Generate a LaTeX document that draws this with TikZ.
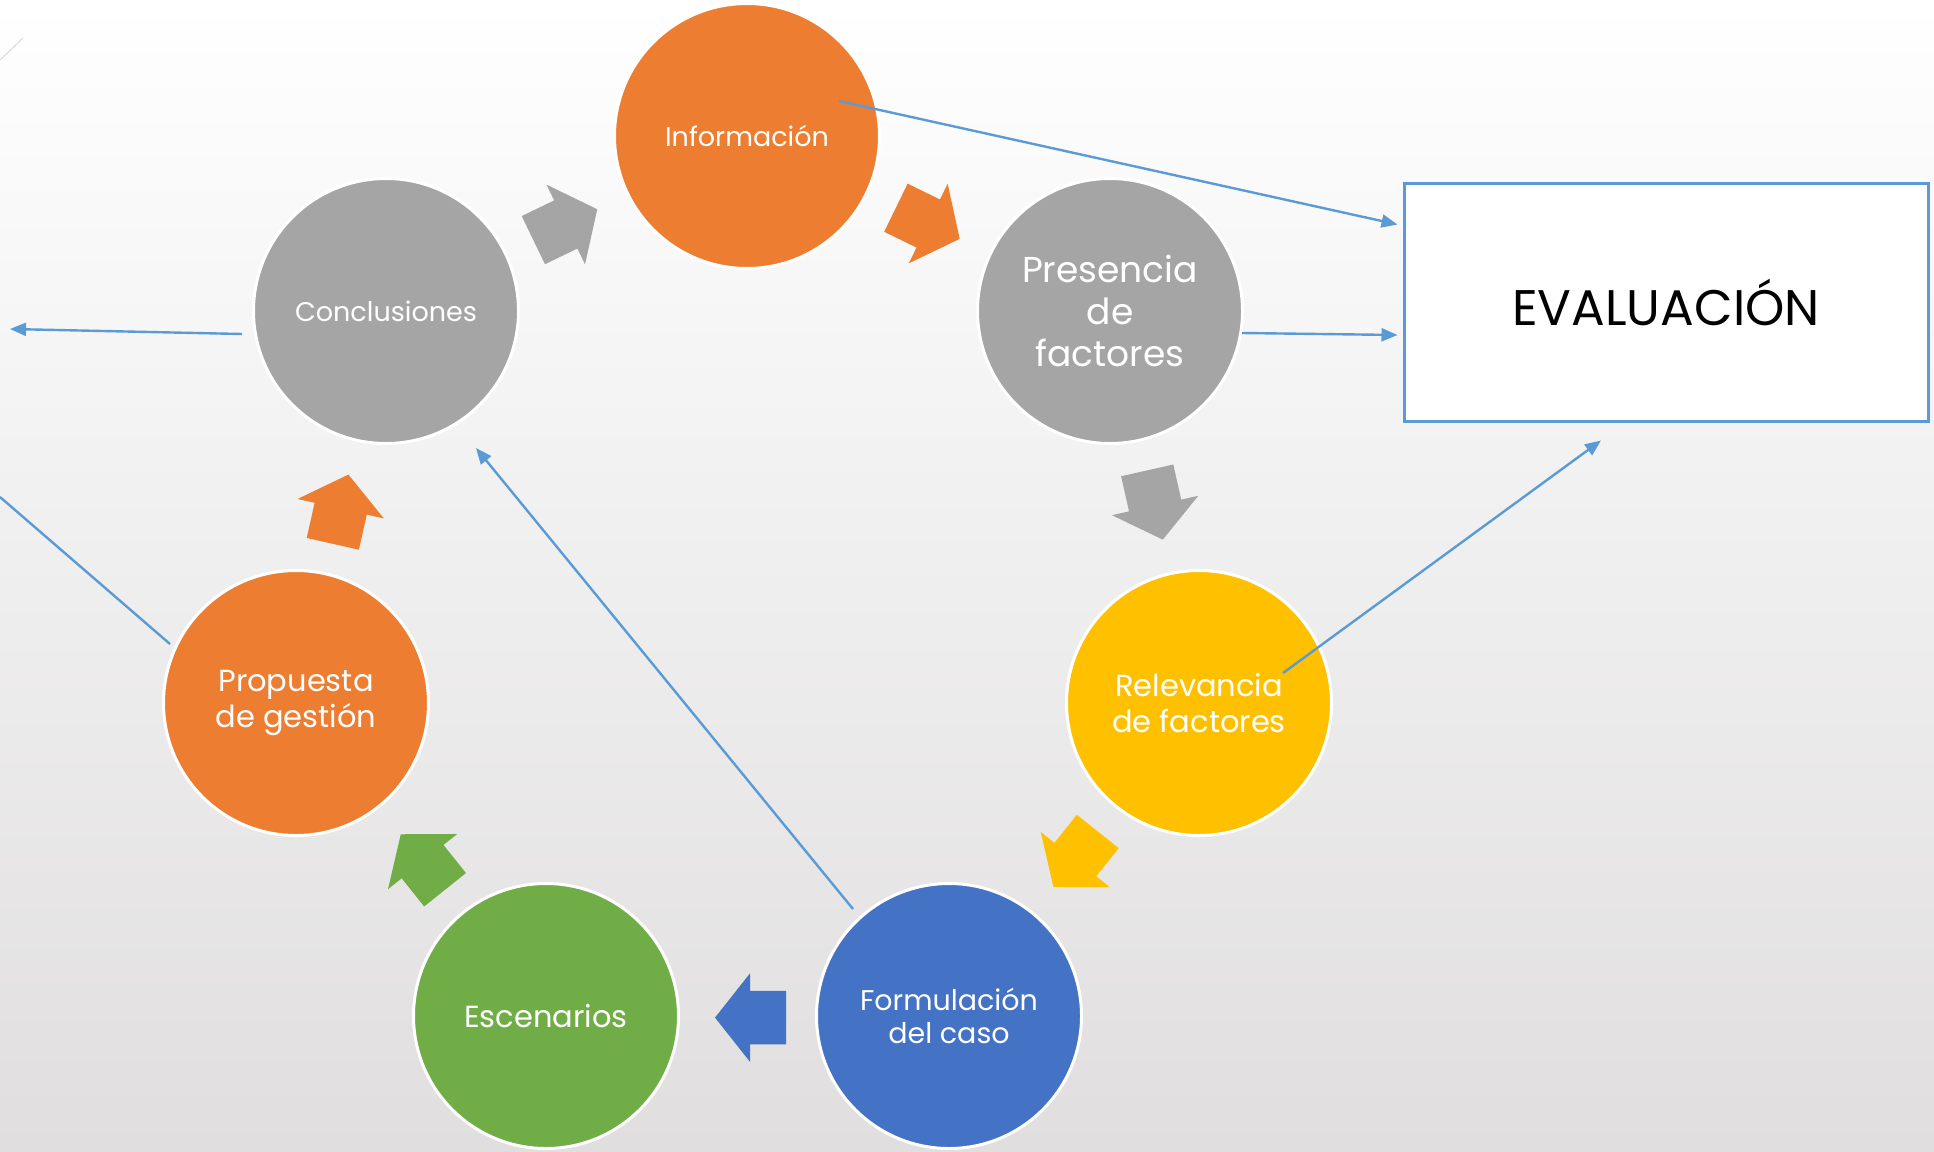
\documentclass[tikz,border=0pt]{standalone}
\usepackage{fontspec}
\setmainfont{Poppins}
\usetikzlibrary{arrows.meta, calc}
\definecolor{officeorange}{RGB}{237,125,49}
\definecolor{officegray}{RGB}{165,165,165}
\definecolor{officeyellow}{RGB}{255,192,0}
\definecolor{officeblue}{RGB}{68,114,196}
\definecolor{officegreen}{RGB}{112,173,71}
\definecolor{linkblue}{RGB}{91,155,213}
\definecolor{bgbottom}{RGB}{224,222,222}

\tikzset{
  stage/.style={circle, draw=white, line width=3pt, minimum size=265pt, inner sep=0pt, text=white, align=center, font=\fontsize{27}{35}\selectfont},
  bigstage/.style={stage, font=\fontsize{30.5}{36}\selectfont},
  link/.style={draw=linkblue, line width=2.4pt, -{Triangle[length=16pt,width=13pt]}},
  pics/fatarrow/.style={code={\fill[#1] (-35.5,-26.75) -- (0.5,-26.75) -- (0.5,-44.25) -- (35.5,0) -- (0.5,44.25) -- (0.5,26.75) -- (-35.5,26.75) -- cycle;}}
}

\begin{document}
\begin{tikzpicture}[x=1pt, y=-1pt]
    % Background
    \shade[top color=white, bottom color=bgbottom] (0,0) rectangle (1934,1151);
    \useasboundingbox (0,0) rectangle (1934,1151);
    \clip (0,0) rectangle (1934,1151);
    \draw[gray!30, line width=1pt] (0,60) -- (23,38);

    % Cycle stages
    \node[stage, fill=officeorange] (info) at (747,136) {Información};
    \node[stage, fill=officegray, font=\fontsize{36}{42}\selectfont] (pres) at (1110,311) {Presencia\\de\\factores};
    \node[bigstage, fill=officeyellow] (relev) at (1199,703) {Relevancia\\de factores};
    \node[stage, fill=officeblue, font=\fontsize{28.5}{33}\selectfont] (formul) at (949,1016) {Formulación\\del caso};
    \node[bigstage, fill=officegreen] (escen) at (546,1016) {Escenarios};
    \node[bigstage, fill=officeorange] (prop) at (296,703) {Propuesta\\de gestión};
    \node[stage, fill=officegray] (concl) at (386,311) {Conclusiones};

    % Evaluation box
    \node[draw=linkblue, line width=3pt, fill=white, minimum width=524pt, minimum height=238pt, font=\fontsize{50}{60}\selectfont] (eval) at (1666,302) {EVALUACIÓN};

    % Block arrows between stages
    \pic[rotate=25.8] at (565.3,224.7) {fatarrow=officegray};
    \pic[rotate=-26] at (927.8,223.3) {fatarrow=officeorange};
    \pic[rotate=-77.3] at (1155,505) {fatarrow=officegray};
    \pic[rotate=-128.6] at (1075.6,859.2) {fatarrow=officeyellow};
    \pic[rotate=180] at (750.5,1017.6) {fatarrow=officeblue};
    \pic[rotate=128.6] at (422.9,862) {fatarrow=officegreen};
    \pic[rotate=77.3] at (340.6,509.2) {fatarrow=officeorange};

    % Links
    \coordinate (leftOut) at (10,329);
    \coordinate (leftEdge) at (0,497);
    \draw[link] ($(info.center)+(92,-35)$) -- ($(eval.north west)+(-5,43)$);
    \draw[link] ($(pres.center)+(132,22)$) -- ($(eval.west)+(-5,33)$);
    \draw[link] ($(relev.center)+(84,-30)$) -- ($(eval.south)+(-65,18)$);
    \draw[link] ($(formul.center)+(-96,-107)$) -- ($(concl.center)+(90,137)$);
    \draw[link] ($(concl.center)+(-144,23)$) -- (leftOut);
    \draw[link, -] ($(prop.center)+(-126,-59)$) -- (leftEdge);
\end{tikzpicture}
\end{document}
